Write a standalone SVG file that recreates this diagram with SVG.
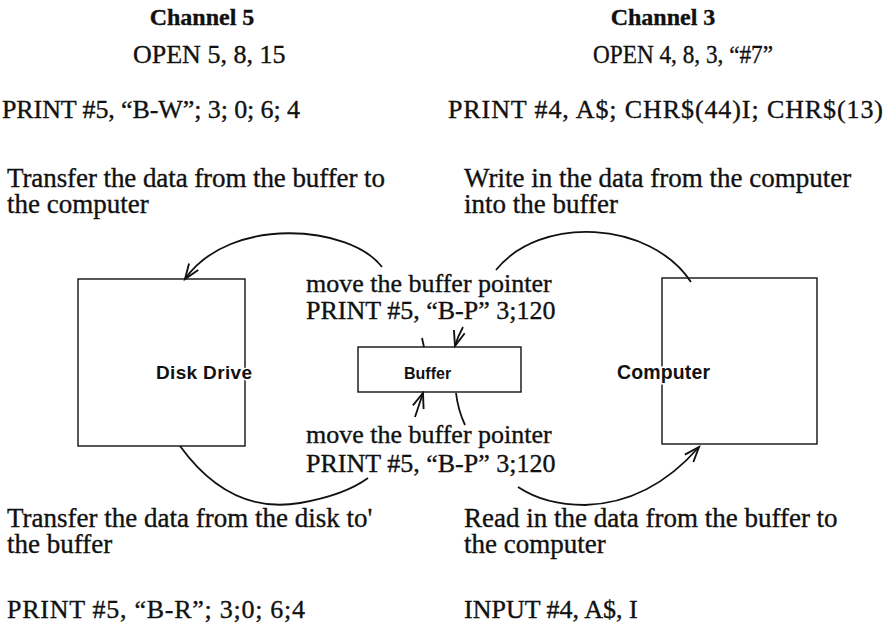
<svg xmlns="http://www.w3.org/2000/svg" width="892" height="624" viewBox="0 0 892 624">
  <defs>
    <marker id="arrow" markerUnits="userSpaceOnUse" markerWidth="20" markerHeight="20" viewBox="-14 -8 16 16" refX="0" refY="0" orient="auto">
      <path d="M-12,-4.5 L0,0 L-12,4.5" fill="none" stroke="#111" stroke-width="1.5"/>
    </marker>
  </defs>
  <style>
    .serif { font-family: "Liberation Serif", "Times New Roman", serif; fill: #111; stroke: #111; stroke-width: 0.35px; }
    .head { font-size: 24px; font-weight: bold; text-anchor: middle; }
    .cmd { font-size: 26px; }
    .desc { font-size: 27px; }
    .mid { font-size: 26px; }
    .sans { font-family: "Liberation Sans", Arial, sans-serif; font-weight: bold; fill: #111; stroke: #fff; stroke-width: 3px; paint-order: stroke; }
    .box { fill: none; stroke: #111; stroke-width: 1.4; }
    .conn { fill: none; stroke: #111; stroke-width: 1.8; }
  </style>
  <rect x="0" y="0" width="892" height="624" fill="#fff"/>

  <g id="connectors">
    <!-- buffer -> disk drive (upper left) -->
    <path class="conn" d="M422,338 L424,347"/>
    <path class="conn" d="M382,267 C350,225 230,215 185,279" marker-end="url(#arrow)"/>
    <!-- computer -> buffer (upper right) -->
    <path class="conn" d="M691,282 C650,220 540,215 496,270"/>
    <path class="conn" d="M463,327 Q458,336 455,346" marker-end="url(#arrow)"/>
    <!-- disk drive -> buffer (lower left) -->
    <path class="conn" d="M180,446 Q230,515 300,503 Q345,495 368,478"/>
    <path class="conn" d="M415,417 L423,393" marker-end="url(#arrow)"/>
    <!-- buffer -> computer (lower right) -->
    <path class="conn" d="M456,393 Q458,410 465,425"/>
    <path class="conn" d="M518,487 Q545,505 585,505 Q650,503 699,447" marker-end="url(#arrow)"/>
  </g>

  <g id="disk-drive">
    <rect class="box" x="78" y="279" width="167" height="167"/>
    <text class="sans" x="156" y="379" font-size="19" textLength="96">Disk Drive</text>
  </g>

  <g id="buffer">
    <rect class="box" x="358" y="347" width="163" height="45"/>
    <text class="sans" x="404" y="379" font-size="16">Buffer</text>
  </g>

  <g id="computer">
    <rect class="box" x="662" y="278" width="155" height="166"/>
    <text class="sans" x="617" y="379" font-size="19.5" textLength="93">Computer</text>
  </g>

  <g id="channel5-labels" class="serif">
    <text class="head" x="202" y="25">Channel 5</text>
    <text class="cmd" x="133" y="63">OPEN 5, 8, 15</text>
    <text class="cmd" x="2" y="118" textLength="298">PRINT #5, “B-W”; 3; 0; 6; 4</text>
    <text class="desc"><tspan x="7" y="187" textLength="378">Transfer the data from the buffer to</tspan><tspan x="7" y="213">the computer</tspan></text>
    <text class="desc"><tspan x="7" y="527">Transfer the data from the disk to'</tspan><tspan x="7" y="553">the buffer</tspan></text>
    <text class="cmd" x="7" y="618" textLength="298">PRINT #5, “B-R”; 3;0; 6;4</text>
  </g>

  <g id="channel3-labels" class="serif">
    <text class="head" x="663" y="25">Channel 3</text>
    <text class="cmd" x="593" y="63" font-size="25" textLength="180" lengthAdjust="spacingAndGlyphs">OPEN 4, 8, 3, “#7”</text>
    <text class="cmd" x="448" y="118" textLength="435">PRINT #4, A$; CHR$(44)I; CHR$(13)</text>
    <text class="desc"><tspan x="464" y="187">Write in the data from the computer</tspan><tspan x="464" y="213">into the buffer</tspan></text>
    <text class="desc"><tspan x="464" y="527">Read in the data from the buffer to</tspan><tspan x="464" y="553">the computer</tspan></text>
    <text class="cmd" x="464" y="618">INPUT #4, A$, I</text>
  </g>

  <g id="pointer-labels" class="serif">
    <text class="mid"><tspan x="306" y="292">move the buffer pointer</tspan><tspan x="306" y="319">PRINT #5, “B-P” 3;120</tspan></text>
    <text class="mid"><tspan x="306" y="443">move the buffer pointer</tspan><tspan x="306" y="472">PRINT #5, “B-P” 3;120</tspan></text>
  </g>
</svg>
